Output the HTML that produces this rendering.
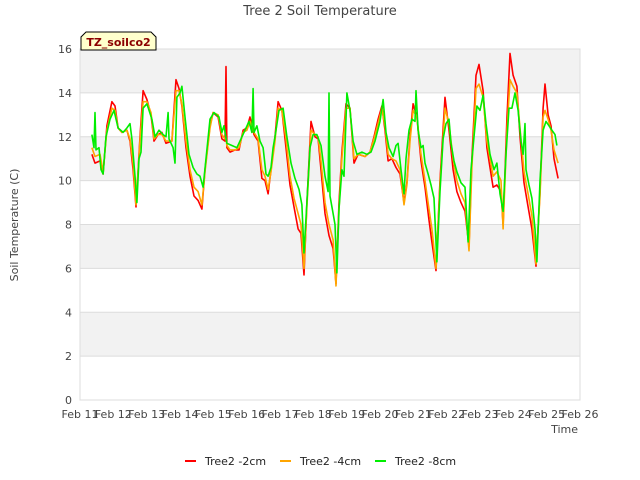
<!DOCTYPE html>
<html><head><meta charset="utf-8"><style>
body{margin:0;background:#fff;}
svg{display:block;font-family:"DejaVu Sans","Liberation Sans",sans-serif;}
</style></head><body>
<svg id="chart" width="640" height="480" viewBox="0 0 640 480">
<text x="320" y="15" text-anchor="middle" font-size="13" fill="#444">Tree 2 Soil Temperature</text>
<g id="bands"></g>
<g id="grid"></g>
<rect x="80" y="49" width="500" height="351" fill="none" stroke="#ddd"/>
<g id="yticks"></g>
<g id="xticks"></g>
<text x="18" y="225" transform="rotate(-90 18 225)" text-anchor="middle" font-size="11" fill="#444">Soil Temperature (C)</text>
<text x="578" y="433" text-anchor="end" font-size="11" fill="#444">Time</text>
<g id="series"></g>
<g>
<path d="M81,50 L81,37 L86,32 L151,32 L156,37 L156,50 Z" fill="#ffffcc" stroke="#000" stroke-width="1"/>
<text x="118.5" y="46" text-anchor="middle" font-size="11" font-weight="bold" fill="#8b0000">TZ_soilco2</text>
</g>
<g>
<g><line x1="185" y1="461" x2="196" y2="461" stroke="#ff0000" stroke-width="2"/><text x="205" y="465" font-size="11" fill="#222">Tree2 -2cm</text></g>
<g><line x1="280" y1="461" x2="291" y2="461" stroke="#ffa500" stroke-width="2"/><text x="300" y="465" font-size="11" fill="#222">Tree2 -4cm</text></g>
<g><line x1="375" y1="461" x2="386" y2="461" stroke="#00ee00" stroke-width="2"/><text x="395" y="465" font-size="11" fill="#222">Tree2 -8cm</text></g>
</g>
</svg>
<script>
const xTickLabels = ["Feb 11","Feb 12","Feb 13","Feb 14","Feb 15","Feb 16","Feb 17","Feb 18","Feb 19","Feb 20","Feb 21","Feb 22","Feb 23","Feb 24","Feb 25","Feb 26"];
const yTicks = [0,2,4,6,8,10,12,14,16];
// hours since Feb 11 00:00
const rTimes = [8.6,10.8,14.4,16.6,19.4,23,25.2,27.4,30.2,33.8,36,38.2,40.3,43.2,45.4,48.2,51.1,53.3,56.2,59,61.9,66.2,69.1,71.3,73.4,76.3,79.2,82.1,85,87.8,90,93.6,95.8,99.4,102.2,104.4,105.1,105.8,108,111.6,114.5,117.4,120.2,122.4,125.3,128.2,131,133.2,135.4,137.5,140.4,142.6,145.4,148.3,151.2,154.1,157,159.1,161.3,163.4,166.3,169.2,171.4,173.5,176.4,179.3,182.2,184.3,186.5,188.6,191.5,194.4,197.3,200.2,205.2,208.8,211.7,214.6,217.4,219.6,221.8,224.6,227.5,230.4,233.3,235.4,237.6,239.8,242.6,245.5,248.4,251.3,253.4,256.3,259.2,262.8,265.7,268.6,271.4,274.3,277.2,280.1,282.2,285.1,287.3,290.2,293,295.2,297.4,300.2,303.1,304.6,307.4,309.6,311.8,314.6,316.8,319.7,322.6,325.4,328.3,331.2,333.4,334.8,337,339.1,341.3,344.2];
const red2cm = [11.2,10.8,10.9,10.3,12.5,13.6,13.4,12.4,12.2,12.3,11.8,10.5,8.8,12,14.1,13.7,13,11.8,12.1,12.2,11.7,11.8,14.6,14.2,13.4,11.5,10.2,9.3,9.1,8.7,10.5,12.5,13.1,12.9,11.9,11.8,15.2,11.5,11.3,11.4,11.4,12.3,12.4,12.9,12.1,11.8,10.1,10,9.4,10.5,12,13.6,13.2,11.5,9.8,8.8,7.8,7.6,5.7,9,12.7,12,11.9,10.5,8.5,7.5,6.9,5.3,9,11.3,13.5,13.3,10.8,11.2,11.1,11.3,12,12.8,13.4,12.3,10.9,11,10.6,10.3,9,9.9,12,13.5,12.9,10.9,9.7,8.2,7.2,5.9,10,13.8,12.3,10.5,9.5,9,8.6,7,11,14.8,15.3,14.1,11.5,10.6,9.7,9.8,9.5,8,12.8,15.8,14.8,14.3,12,9.9,8.8,7.8,6.1,9.5,13.3,14.4,13,12.5,11,10.1];
const orange4cm = [11.5,11.1,11.2,10.4,12.3,13.3,13.2,12.4,12.2,12.3,11.9,10.8,8.9,11.8,13.6,13.6,13.1,11.9,12.1,12.1,11.8,11.8,14.1,14.1,13.5,11.8,10.5,9.7,9.5,8.9,10.4,12.4,13.1,13,12.1,11.9,11.9,11.6,11.4,11.4,11.5,12.2,12.3,12.7,12.2,11.9,10.5,10.2,9.6,10.4,11.8,13.3,13.2,11.9,10.2,9.2,8.5,8,6,8.8,12.3,12.1,12,10.9,9,8,7.3,5.2,8.7,11,13.3,13.3,11,11.2,11.1,11.3,11.9,12.6,13.3,12.5,11.2,11,10.9,10.5,8.9,9.8,11.8,13.2,12.9,11.2,10,8.7,7.8,6,9.8,13.3,12.6,11,10,9.4,9,6.8,10.6,14.2,14.4,13.8,11.8,11,10.2,10.4,10,7.8,12.2,14.6,14.3,14,12.4,10.4,9.4,8.4,6.2,9.3,12.9,13.2,12.8,12.3,11.4,10.8];
const gTimes = [8.6,10.1,10.8,11.5,13.7,15.1,16.6,18.7,21.6,24.5,27.4,31,33.8,36,37.4,39.6,41,42.5,43.9,45.4,48.2,51.8,54,56.9,59.8,61.9,63.4,64.1,67,68.4,69.8,72,73.4,75.6,78.5,81.4,84.2,86.4,88.6,90.7,93.6,96.5,100.1,102.2,103.7,105.8,109.4,113,115.9,118.8,121.7,123.8,124.6,125.3,127.4,129.6,131.8,133.9,135.4,137.5,139,140.4,143.3,146.2,149,151.9,154.8,157.7,159.8,161.3,163.4,165.6,167.8,170.6,173.5,176.4,178.6,179.3,180,182.2,183.6,185,186.5,188.6,190.1,192.2,194.4,196.6,199.4,203,206.6,209.5,212.4,216,218.2,220.3,222.5,225.4,227.5,229,231.1,233.3,234.7,236.9,239,241.2,241.9,243.4,245.5,247,248.4,250.6,252.7,254.9,257,259.2,261.4,263.5,265.7,267.1,269.3,271.4,274.3,277.2,279.4,281.5,283.7,285.8,288,290.2,292.3,295.2,298.1,300.2,302.4,304.6,306.7,308.9,311,313.2,315.4,317.5,319,320.4,321.1,323.3,325.4,327.6,329,331.2,333.4,335.5,337.7,339.8,342,343.4];
const green8cm = [12.1,11.5,13.1,11.4,11.5,10.5,10.3,12,12.8,13.2,12.4,12.2,12.4,12.6,11.9,10.2,9,11,11.3,13.3,13.5,12.8,12,12.3,12.1,12,13.1,11.9,11.5,10.8,13.8,14,14.3,12.9,11.2,10.6,10.3,10.2,9.7,11,12.8,13.1,12.9,12.2,12.5,11.7,11.6,11.5,11.9,12.3,12.7,12.2,14.2,12.2,12.5,11.8,11.5,10.3,10.2,10.6,11.5,12,13.2,13.3,12,10.8,10.1,9.6,8.9,6.7,9,11.5,12.1,12.1,11.6,10.2,9.5,14,9.3,8.5,8,5.8,8.7,10.5,10.2,14,13.2,11.8,11.2,11.3,11.2,11.3,11.8,12.7,13.7,12.2,11.5,11.1,11.6,11.7,10.5,9.4,11,12.3,12.8,12.7,14.1,12.3,11.5,11.6,10.8,10.3,9.8,9.2,6.3,9.5,11.9,12.6,12.8,11.7,10.9,10.4,9.9,9.7,7.2,10.5,12,13.4,13.2,13.9,12.6,11.2,10.5,10.8,9.4,8.6,11.2,13.3,13.3,14,13.2,11.8,11.2,12.6,10.5,9.8,9.2,7.8,6.3,10,12.3,12.7,12.5,12.3,12.1,11.6];

const NS='http://www.w3.org/2000/svg';
const X0=80,X1=580,Y0=400,Y1=49,HMAX=360,VMAX=16;
function xs(h){return X0+(h/HMAX)*(X1-X0);}
function ys(v){return Y0-(v/VMAX)*(Y0-Y1);}
function mk(tag,attrs,parent){const e=document.createElementNS(NS,tag);for(const k in attrs)e.setAttribute(k,attrs[k]);parent.appendChild(e);return e;}

const bands=document.getElementById('bands');
for(let i=0;i<yTicks.length-1;i++){
  if(i%2===1){
    const r=mk('rect',{x:X0,y:ys(yTicks[i+1]),width:X1-X0,height:ys(yTicks[i])-ys(yTicks[i+1]),fill:'#f2f2f2'},bands);
    
    
  }
}
const grid=document.getElementById('grid');
const yt=document.getElementById('yticks');
yTicks.forEach(v=>{
  const l=mk('line',{x1:X0,x2:X1,y1:ys(v),y2:ys(v),stroke:'#dcdcdc','stroke-width':1},grid);
  
  
  const t=mk('text',{x:72,y:ys(v)+4,'text-anchor':'end','font-size':11,fill:'#444'},yt);
  t.textContent=v;
  
  
});
const xt=document.getElementById('xticks');
xTickLabels.forEach((s,i)=>{
  const t=mk('text',{x:xs(i*24),y:418,'text-anchor':'middle','font-size':11,fill:'#444'},xt);
  t.textContent=s;
  
  
});
const sg=document.getElementById('series');
function draw(times,vals,color,name){
  const d=times.map((h,i)=>(i?'L':'M')+xs(h).toFixed(1)+','+ys(vals[i]).toFixed(1)).join(' ');
  const p=mk('path',{d:d,fill:'none',stroke:color,'stroke-width':1.6,'stroke-linejoin':'round'},sg);
  
  
}
draw(rTimes,red2cm,'#ff0000','series-tree2-2cm');
draw(rTimes,orange4cm,'#ffa500','series-tree2-4cm');
draw(gTimes,green8cm,'#00ee00','series-tree2-8cm');
</script>
</body></html>
